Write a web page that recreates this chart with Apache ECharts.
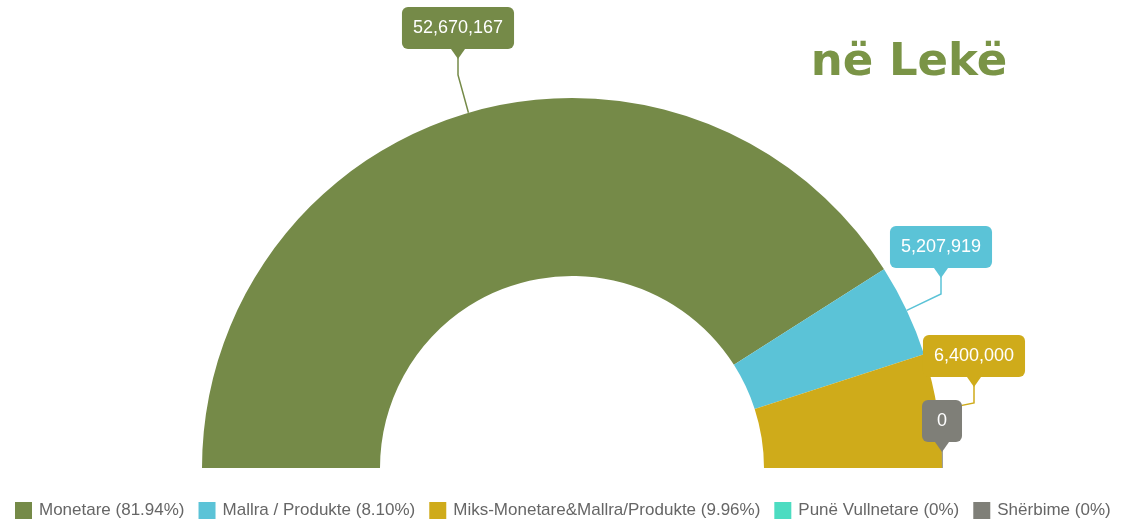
<!DOCTYPE html>
<html>
<head>
<meta charset="utf-8">
<script src="https://cdn.jsdelivr.net/npm/echarts@6/dist/echarts.min.js"></script>
<style>html,body{margin:0;padding:0;background:#fff;}#c{width:1135px;height:522px;}</style>
</head>
<body>
<div id="c"></div>
<script>
const categories = ['Monetare', 'Mallra / Produkte', 'Miks-Monetare&Mallra/Produkte', 'Punë Vullnetare', 'Shërbime'];
const values = [52670167, 5207919, 6400000, 0, 0];
const colors = ['#758a48', '#5bc3d7', '#cfab1a', '#4cdcc1', '#7f7f78'];
const showLabel = [true, true, true, false, true];
const titleText = 'në Lekë';

// callout pointer tips (layout only)
const labelPos = [[458, 59], [941, 278], [974, 387], null, [942, 452]];

const total = values.reduce((a, b) => a + b, 0);
const fmt = v => v.toLocaleString('en-US');
const pct = v => v === 0 ? '0%' : (v / total * 100).toFixed(2) + '%';

function triangle(color) {
  const cv = document.createElement('canvas');
  cv.width = 14; cv.height = 10;
  const ctx = cv.getContext('2d');
  ctx.fillStyle = color;
  ctx.beginPath(); ctx.moveTo(0, 0); ctx.lineTo(14, 0); ctx.lineTo(7, 10); ctx.closePath(); ctx.fill();
  return cv;
}

const data = categories.map((name, i) => ({
  name: name,
  value: values[i],
  itemStyle: { color: colors[i] },
  label: {
    show: showLabel[i],
    rich: {
      box: { backgroundColor: colors[i], color: '#fff', fontSize: 18, fontFamily: 'Liberation Sans, Arial, sans-serif',
             padding: values[i] === 0 ? [10, 15, 10, 15] : [10, 11, 10, 11], borderRadius: 6, height: 22 },
      arr: { width: 14, height: 10, lineHeight: 10, fontSize: 1, backgroundColor: { image: triangle(colors[i]) } }
    }
  },
  labelLine: { show: showLabel[i], lineStyle: { color: colors[i], width: 1.5 } }
}));

const chart = echarts.init(document.getElementById('c'), null, { renderer: 'canvas' });
chart.setOption({
  animation: false,
  backgroundColor: '#fff',
  title: {
    text: titleText,
    left: 904, top: 36, textAlign: 'center',
    textStyle: { color: '#7a9446', fontSize: 45, fontWeight: 'bold', fontFamily: 'DejaVu Sans' }
  },
  legend: {
    data: categories,
    left: 10, top: 497, right: 5,
    icon: 'rect', itemWidth: 17, itemHeight: 17, itemGap: 14,
    formatter: name => name + ' (' + pct(values[categories.indexOf(name)]) + ')',
    textStyle: { color: '#666', fontSize: 17, padding: [0, 0, 0, 2], fontFamily: 'Liberation Sans, Arial, sans-serif' }
  },
  series: [{
    type: 'pie',
    center: [572, 468],
    radius: [192, 370],
    startAngle: 180,
    endAngle: 0,
    clockwise: true,
    avoidLabelOverlap: false,
    label: {
      position: 'outside',
      formatter: p => '{box|' + fmt(p.value) + '}\n{arr| }'
    },
    labelLine: { length: 15, length2: 15 },
    labelLayout: function (p) {
      const pos = labelPos[p.dataIndex];
      if (!pos) return {};
      const a = p.labelLinePoints ? p.labelLinePoints[0] : [pos[0], pos[1] + 20];
      return {
        x: pos[0], y: pos[1], align: 'center', verticalAlign: 'bottom',
        labelLinePoints: [a, [pos[0], pos[1] + 16], [pos[0], pos[1] - 2]]
      };
    },
    data: data
  }]
});
</script>
</body>
</html>
